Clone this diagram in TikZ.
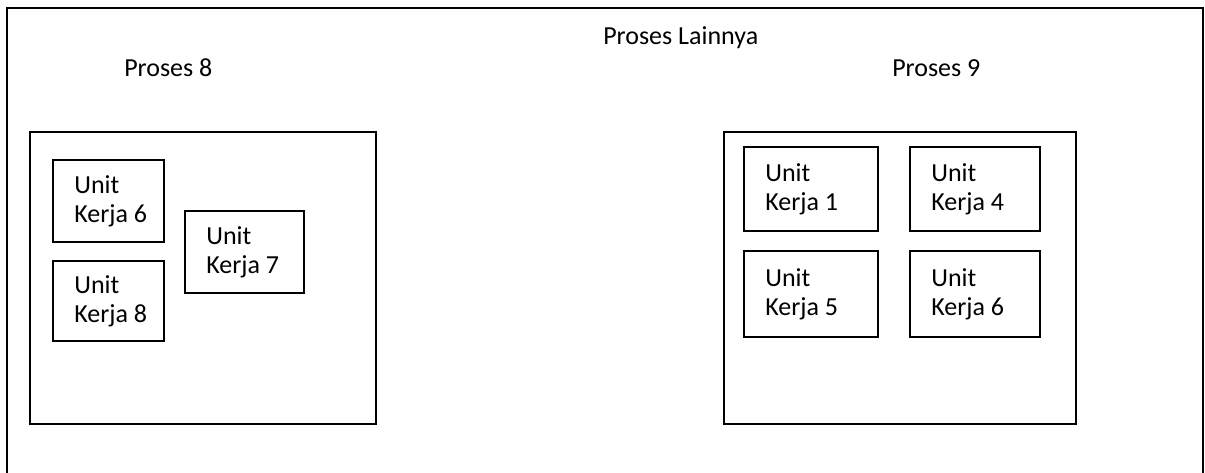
\documentclass[tikz,border=0pt]{standalone}
\usepackage{fontspec}
\setmainfont{Carlito}

% two-line label of a work unit, normal word space kept
\newcommand{\unitkerja}[1]{Unit\\\mbox{\spaceskip=0pt Kerja #1}}

\begin{document}
\begin{tikzpicture}[x=0.75pt,y=-0.75pt,
  every node/.style={font=\fontsize{19.5}{22}\selectfont},
  title/.style={anchor=base west,inner sep=0pt},
  box/.style 2 args={draw,line width=1.4pt,anchor=north west,outer sep=0pt,
    minimum width=#1,minimum height=#2},
  % width, height, text width (width minus both paddings)
  unit/.style n args={3}{box={#1}{#2},align=left,inner xsep=16pt,text width=#3}]
  \useasboundingbox (0,0) rectangle (1205,473);
  % frame of the other processes, open at the bottom
  \coordinate (fbl) at (7,473);
  \coordinate (ftl) at (7,8);
  \coordinate (ftr) at (1203,8);
  \coordinate (fbr) at (1203,473);
  \draw[line width=1.4pt] (fbl)--(ftl)--(ftr)--(fbr);
  \node[title] (lainnya) at (603,45) {Proses Lainnya};
  \node[title] (p8label) at (124,77) {Proses 8};
  \node[title] (p9label) at (892,77) {Proses 9};
  % proses 8
  \node[box={259.5pt}{219pt}] (proses8) at (30,132) {};
  \node[unit={83.25pt}{61.5pt}{51.25pt}] (uk6) at (53,160) {\unitkerja{6}};
  \node[unit={83.25pt}{60pt}{51.25pt}] (uk8) at (53,261) {\unitkerja{8}};
  \node[unit={89.25pt}{61.5pt}{57.25pt}] (uk7) at (185,211) {\unitkerja{7}};
  % proses 9
  \node[box={264pt}{219pt}] (proses9) at (724,132) {};
  \node[unit={100.5pt}{63pt}{68.5pt}] (uk1) at (744,147) {\unitkerja{1}};
  \node[unit={97.5pt}{63pt}{65.5pt}] (uk4) at (910,147) {\unitkerja{4}};
  \node[unit={100.5pt}{64.5pt}{68.5pt}] (uk5) at (744,251) {\unitkerja{5}};
  \node[unit={97.5pt}{64.5pt}{65.5pt}] (uk6b) at (910,251) {\unitkerja{6}};
\end{tikzpicture}
\end{document}
